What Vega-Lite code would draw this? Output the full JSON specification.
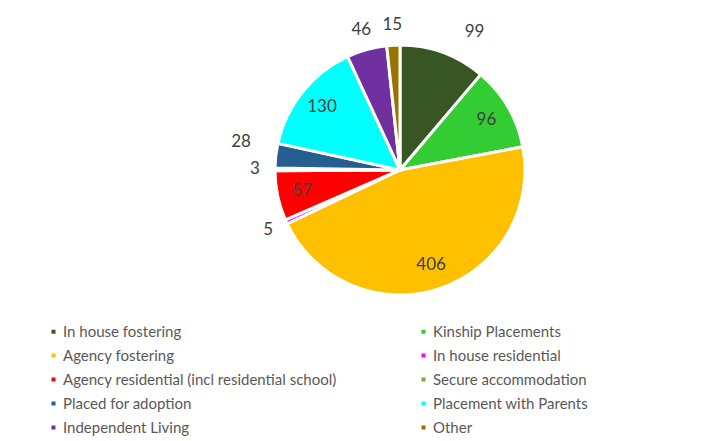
{
  "$schema": "https://vega.github.io/schema/vega-lite/v6.json",
  "width": 652,
  "height": 340,
  "autosize": {"type": "none"},
  "padding": {"left": 74, "top": 0, "right": 0, "bottom": 101},
  "background": "white",
  "config": {"view": {"stroke": null}},
  "data": {
    "values": [
      {"idx": 1, "category": "In house fostering", "value": 99},
      {"idx": 2, "category": "Kinship Placements", "value": 96},
      {"idx": 3, "category": "Agency fostering", "value": 406},
      {"idx": 4, "category": "In house residential", "value": 5},
      {"idx": 5, "category": "Agency residential (incl residential school)", "value": 57},
      {"idx": 6, "category": "Secure accommodation", "value": 3},
      {"idx": 7, "category": "Placed for adoption", "value": 28},
      {"idx": 8, "category": "Placement with Parents", "value": 130},
      {"idx": 9, "category": "Independent Living", "value": 46},
      {"idx": 10, "category": "Other", "value": 15}
    ]
  },
  "encoding": {
    "theta": {"field": "value", "type": "quantitative", "stack": true},
    "order": {"field": "idx", "type": "quantitative"}
  },
  "layer": [
    {
      "mark": {"type": "arc", "outerRadius": 125, "stroke": "white", "strokeWidth": 3},
      "encoding": {
        "color": {
          "field": "category",
          "type": "nominal",
          "sort": null,
          "scale": {
            "domain": ["In house fostering", "Kinship Placements", "Agency fostering", "In house residential", "Agency residential (incl residential school)", "Secure accommodation", "Placed for adoption", "Placement with Parents", "Independent Living", "Other"],
            "range": ["#375623", "#33CC33", "#FFC000", "#FF00FF", "#FF0000", "#70AD47", "#255E91", "#00FFFF", "#7030A0", "#997300"]
          },
          "legend": {
            "title": null,
            "orient": "none",
            "legendX": -28,
            "legendY": 324,
            "direction": "horizontal",
            "columns": 2,
            "columnPadding": 79,
            "rowPadding": 8,
            "padding": 0,
            "symbolType": "square",
            "symbolSize": 16,
            "symbolStrokeWidth": 0,
            "labelFont": "Lato",
            "labelFontSize": 15,
            "labelColor": "#595959",
            "labelOffset": 2,
            "labelLimit": 400
          }
        }
      }
    },
    {
      "mark": {"type": "text", "radius": 100, "font": "Lato", "fontSize": 17, "color": "#404040"},
      "encoding": {
        "text": {
          "condition": {"test": "indexof(['Kinship Placements', 'Agency fostering', 'Agency residential (incl residential school)', 'Placement with Parents'], datum.category) >= 0", "field": "value", "type": "quantitative"},
          "value": ""
        }
      }
    },
    {
      "mark": {"type": "text", "radius": 145, "font": "Lato", "fontSize": 17, "color": "#404040"},
      "encoding": {
        "text": {
          "condition": {"test": "indexof(['In house residential', 'Secure accommodation', 'Independent Living', 'Other'], datum.category) >= 0", "field": "value", "type": "quantitative"},
          "value": ""
        }
      }
    },
    {
      "mark": {"type": "text", "radius": 147, "dx": 24, "font": "Lato", "fontSize": 17, "color": "#404040"},
      "encoding": {
        "text": {
          "condition": {"test": "datum.category === 'In house fostering'", "field": "value", "type": "quantitative"},
          "value": ""
        }
      }
    },
    {
      "mark": {"type": "text", "radius": 160, "dy": -10, "font": "Lato", "fontSize": 17, "color": "#404040"},
      "encoding": {
        "text": {
          "condition": {"test": "datum.category === 'Placed for adoption'", "field": "value", "type": "quantitative"},
          "value": ""
        }
      }
    }
  ]
}
